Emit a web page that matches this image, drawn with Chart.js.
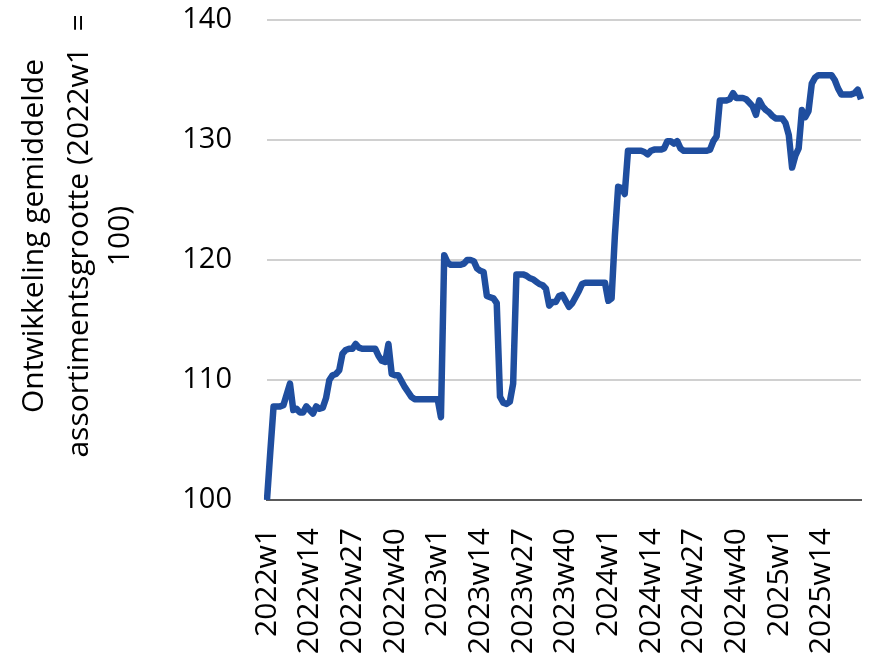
<!DOCTYPE html>
<html>
<head>
<meta charset="utf-8">
<script src="https://cdn.jsdelivr.net/npm/chart.js@4/dist/chart.umd.min.js"></script>
<style>
  html, body { margin: 0; padding: 0; background: #ffffff; }
  canvas { display: block; }
</style>
</head>
<body>
<canvas id="c" width="891" height="660"></canvas>
<script>
// ---- Data ----
const YEARS = [2022, 2023, 2024, 2025];
const N_POINTS = 182; // 2022w1 .. 2025w26
const weeks = [];
for (const yr of YEARS) { for (let w = 1; w <= 52; w++) weeks.push(yr + 'w' + w); }
const categories = weeks.slice(0, N_POINTS);

const values = [
  100.0, 104.0, 107.8, 107.8, 107.8, 107.9, 108.8, 109.7, 107.5, 107.6,
  107.3, 107.3, 107.8, 107.5, 107.2, 107.8, 107.6, 107.7, 108.5, 110.0,
  110.4, 110.5, 110.8, 112.2, 112.5, 112.6, 112.6, 113.0, 112.7, 112.6,
  112.6, 112.6, 112.6, 112.6, 112.0, 111.6, 111.5, 113.0, 110.5, 110.4,
  110.4, 109.9, 109.4, 109.0, 108.6, 108.4, 108.4, 108.4, 108.4, 108.4,
  108.4, 108.4, 108.4, 106.9, 120.4, 119.8, 119.6, 119.6, 119.6, 119.6,
  119.7, 120.0, 120.0, 119.9, 119.3, 119.1, 119.0, 117.0, 116.9, 116.8,
  116.4, 108.6, 108.1, 108.0, 108.2, 109.7, 118.8, 118.8, 118.8, 118.7,
  118.5, 118.4, 118.2, 118.0, 117.9, 117.6, 116.2, 116.5, 116.5, 117.0,
  117.1, 116.6, 116.1, 116.4, 116.9, 117.4, 118.0, 118.1, 118.1, 118.1,
  118.1, 118.1, 118.1, 118.1, 116.6, 116.8, 122.0, 126.1, 126.0, 125.5,
  129.1, 129.1, 129.1, 129.1, 129.1, 129.0, 128.8, 129.1, 129.2, 129.2,
  129.2, 129.3, 129.9, 129.9, 129.7, 129.9, 129.3, 129.1, 129.1, 129.1,
  129.1, 129.1, 129.1, 129.1, 129.1, 129.2, 129.9, 130.3, 133.3, 133.3,
  133.3, 133.4, 133.9, 133.5, 133.5, 133.5, 133.4, 133.1, 132.8, 132.1,
  133.3, 132.8, 132.5, 132.3, 132.0, 131.8, 131.8, 131.8, 131.4, 130.4,
  127.7, 128.7, 129.3, 132.5, 131.9, 132.4, 134.7, 135.2, 135.4, 135.4,
  135.4, 135.4, 135.4, 135.0, 134.3, 133.8, 133.8, 133.8, 133.8, 133.9,
  134.2, 133.4
];

const tickLabels = [
  '2022w1', '2022w14', '2022w27', '2022w40',
  '2023w1', '2023w14', '2023w27', '2023w40',
  '2024w1', '2024w14', '2024w27', '2024w40',
  '2025w1', '2025w14'
];

const yTicks = [100, 110, 120, 130, 140];
const yTitle = ['Ontwikkeling gemiddelde', 'assortimentsgrootte (2022w1  =', '100)'];

// ---- Styles ----
const FONT = '"Open Sans", "Noto Sans", sans-serif';
const LINE_COLOR = '#1f4e9f';

const yTitlePlugin = {
  id: 'yTitleLines',
  afterDraw(chart) {
    const ctx = chart.ctx;
    const baselines = [43, 88, 129];
    const centerY = 236;
    ctx.save();
    ctx.font = '30px ' + FONT;
    ctx.fillStyle = '#000000';
    ctx.textAlign = 'center';
    ctx.textBaseline = 'alphabetic';
    yTitle.forEach((line, k) => {
      ctx.save();
      ctx.translate(baselines[k], centerY);
      ctx.rotate(-Math.PI / 2);
      ctx.fillText(line, 0, 0);
      ctx.restore();
    });
    ctx.restore();
  }
};

new Chart(document.getElementById('c'), {
  type: 'line',
  data: {
    labels: categories,
    datasets: [{
      data: values,
      borderColor: LINE_COLOR,
      backgroundColor: LINE_COLOR,
      borderWidth: 6.5,
      pointRadius: 0,
      pointHoverRadius: 0,
      tension: 0,
      fill: false,
      borderJoinStyle: 'round',
      borderCapStyle: 'butt'
    }]
  },
  options: {
    responsive: false,
    animation: false,
    devicePixelRatio: 1,
    layout: { padding: { top: 20, left: 0, right: 0, bottom: 0 } },
    plugins: {
      legend: { display: false },
      tooltip: { enabled: false },
      title: { display: false }
    },
    scales: {
      x: {
        type: 'category',
        offset: false,
        grid: { display: false, drawTicks: false },
        border: { display: true, color: '#5a5a5a', width: 2 },
        ticks: {
          autoSkip: false,
          maxRotation: 90,
          minRotation: 90,
          padding: 28,
          color: '#000000',
          font: { family: FONT, size: 30 },
          callback(v, i) {
            const l = categories[i];
            return tickLabels.includes(l) ? l : '';
          }
        },
        afterFit(s) { s.height = 160; s.paddingLeft = 0; s.paddingRight = 30; }
      },
      y: {
        min: yTicks[0],
        max: yTicks[yTicks.length - 1],
        afterBuildTicks(s) { s.ticks = yTicks.map(v => ({ value: v })); },
        grid: {
          drawTicks: false,
          lineWidth: 2,
          color: (c) => (c.tick && c.tick.value === yTicks[0]) ? 'rgba(0,0,0,0)' : '#d0d0d0'
        },
        border: { display: false },
        ticks: {
          padding: 35,
          color: '#000000',
          font: { family: FONT, size: 29 }
        },
        afterFit(s) { s.width = 267; s.paddingTop = 0; s.paddingBottom = 0; }
      }
    }
  },
  plugins: [yTitlePlugin]
});
</script>
</body>
</html>
